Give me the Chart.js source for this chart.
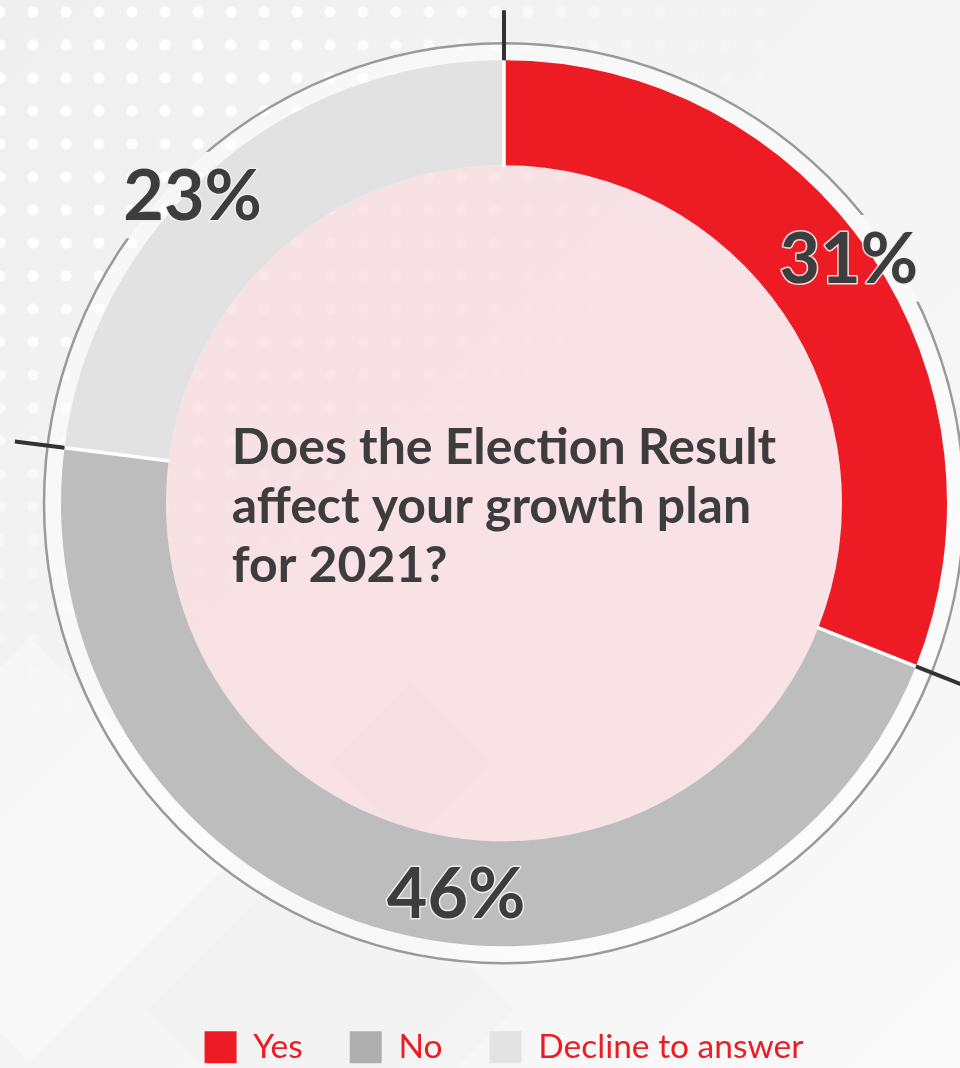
<!DOCTYPE html>
<html>
<head>
<meta charset="utf-8">
<title>Election result and growth plans</title>
<script src="https://cdn.jsdelivr.net/npm/chart.js@4.4.0/dist/chart.umd.min.js"></script>
<style>
  html, body { margin: 0; padding: 0; width: 960px; height: 1068px; overflow: hidden; }
  body {
    position: relative;
    font-family: Lato, sans-serif;
    background: linear-gradient(135deg, #efefef 0%, #f4f4f4 45%, #f9f9f9 100%);
  }
  .dots {
    position: absolute; left: 0; top: 0; width: 960px; height: 1068px;
    background-image: radial-gradient(circle, rgba(255,255,255,0.95) 5px, rgba(255,255,255,0) 6px);
    background-size: 33px 33px;
    background-position: -16.5px -4.5px;
    -webkit-mask-image: radial-gradient(ellipse 820px 760px at 0 0, #000 35%, transparent 100%);
    mask-image: radial-gradient(ellipse 820px 760px at 0 0, #000 35%, transparent 100%);
  }
  .diamond { position: absolute; transform: rotate(45deg); background: rgba(0,0,0,0.022); }
  #wrap { position: absolute; left: 0; top: 0; width: 960px; height: 1068px; }
</style>
</head>
<body>
<div class="dots"></div>
<div class="diamond" style="left:354px; top:706px; width:113px; height:113px;"></div>
<div class="diamond" style="left:200px; top:880px; width:260px; height:260px; background: rgba(0,0,0,0.012);"></div>
<div class="diamond" style="left:-120px; top:700px; width:300px; height:300px; background: rgba(255,255,255,0.35);"></div>
<div id="wrap"><canvas id="pie"></canvas></div>

<script>
// chart data
var categories = ['Yes', 'No', 'Decline to answer'];
var shares = [31, 46, 23];
var sliceColors = ['#ed1c24', '#bdbdbd', '#e2e2e2'];
var legendColors = ['#ed1c24', '#afafaf', '#e3e3e3'];
var questionLines = ['Does the Election Result', 'affect your growth plan', 'for 2021?'];

// where each % label sits, relative to its slice
function labelSpots(chart, opts) {
  var ctx = chart.ctx;
  ctx.save();
  ctx.font = 'bold ' + opts.labelSize + 'px Lato';
  var spots = chart.getDatasetMeta(0).data.map(function (arc, i) {
    var p = arc.getProps(['x', 'y', 'startAngle', 'endAngle', 'outerRadius'], true);
    var mid = (p.startAngle + p.endAngle) / 2 + opts.shift[i] * Math.PI / 180;
    var r = p.outerRadius * opts.reach[i];
    var text = shares[i] + '%';
    return {
      x: p.x + Math.cos(mid) * r,
      y: p.y + Math.sin(mid) * r,
      text: text,
      w: ctx.measureText(text).width
    };
  });
  ctx.restore();
  return spots;
}

var ringDecor = {
  id: 'ringDecor',
  beforeDatasetsDraw: function (chart, args, opts) {
    var arcs = chart.getDatasetMeta(0).data;
    if (!arcs.length) return;
    var g = arcs[0].getProps(['x', 'y', 'innerRadius', 'outerRadius'], true);
    var ctx = chart.ctx;
    ctx.save();

    // lighter band just outside the ring
    ctx.strokeStyle = 'rgba(255,255,255,0.45)';
    ctx.lineWidth = opts.circleGap;
    ctx.beginPath();
    ctx.arc(g.x, g.y, g.outerRadius + opts.circleGap / 2, 0, Math.PI * 2);
    ctx.stroke();

    // pink disk in the hole
    ctx.fillStyle = opts.diskColor;
    ctx.beginPath();
    ctx.arc(g.x, g.y, g.innerRadius, 0, Math.PI * 2);
    ctx.fill();

    // thin outer circle, broken where the labels cross it
    var half = opts.labelSize * 0.36 + opts.gapPad;
    ctx.beginPath();
    ctx.rect(0, 0, chart.width, chart.height);
    labelSpots(chart, opts).forEach(function (s) {
      ctx.rect(s.x - s.w / 2 - opts.gapPad, s.y - half, s.w + opts.gapPad * 2, half * 2);
    });
    ctx.clip('evenodd');
    ctx.strokeStyle = opts.circleColor;
    ctx.lineWidth = 2.5;
    ctx.beginPath();
    ctx.arc(g.x, g.y, g.outerRadius + opts.circleGap, 0, Math.PI * 2);
    ctx.stroke();
    ctx.restore();
  },
  afterDatasetsDraw: function (chart, args, opts) {
    var arcs = chart.getDatasetMeta(0).data;
    if (!arcs.length) return;
    var ctx = chart.ctx;
    ctx.save();

    // white gap between slices + dark tick outside the ring
    arcs.forEach(function (arc) {
      var p = arc.getProps(['x', 'y', 'startAngle', 'innerRadius', 'outerRadius'], true);
      var c = Math.cos(p.startAngle), s = Math.sin(p.startAngle);
      ctx.strokeStyle = '#ffffff';
      ctx.lineWidth = 3.5;
      ctx.beginPath();
      ctx.moveTo(p.x + c * (p.innerRadius - 1), p.y + s * (p.innerRadius - 1));
      ctx.lineTo(p.x + c * p.outerRadius, p.y + s * p.outerRadius);
      ctx.stroke();
      ctx.strokeStyle = opts.tickColor;
      ctx.lineWidth = 4;
      ctx.beginPath();
      ctx.moveTo(p.x + c * p.outerRadius, p.y + s * p.outerRadius);
      ctx.lineTo(p.x + c * (p.outerRadius + opts.tickLen), p.y + s * (p.outerRadius + opts.tickLen));
      ctx.stroke();
    });

    // percentage labels
    ctx.font = 'bold ' + opts.labelSize + 'px Lato';
    ctx.textAlign = 'center';
    ctx.textBaseline = 'alphabetic';
    ctx.lineJoin = 'round';
    labelSpots(chart, opts).forEach(function (s) {
      var base = s.y + opts.labelSize * 0.36;
      ctx.strokeStyle = 'rgba(240,240,240,0.9)';
      ctx.lineWidth = 3;
      ctx.strokeText(s.text, s.x, base);
      ctx.fillStyle = opts.textColor;
      ctx.fillText(s.text, s.x, base);
    });

    // question in the middle
    var g = arcs[0].getProps(['x', 'y'], true);
    ctx.font = 'bold ' + opts.questionSize + 'px Lato';
    ctx.textAlign = 'left';
    var widest = 0;
    questionLines.forEach(function (t) { widest = Math.max(widest, ctx.measureText(t).width); });
    var left = g.x - widest / 2;
    var first = g.y - (questionLines.length - 1) * opts.questionLead / 2 + opts.questionSize * 0.36 + 2;
    ctx.fillStyle = opts.textColor;
    questionLines.forEach(function (t, i) {
      ctx.fillText(t, left, first + i * opts.questionLead);
    });
    ctx.restore();
  }
};

var pie = new Chart(document.getElementById('pie'), {
  type: 'doughnut',
  data: {
    labels: categories,
    datasets: [{
      data: shares,
      backgroundColor: sliceColors,
      borderWidth: 0,
      hoverOffset: 0
    }]
  },
  options: {
    responsive: true,
    maintainAspectRatio: false,
    animation: false,
    radius: 443,
    cutout: '76.3%',
    layout: { padding: { top: 23, left: 48, right: 0, bottom: -6 } },
    plugins: {
      tooltip: { enabled: false },
      legend: {
        position: 'bottom',
        labels: {
          boxWidth: 32,
          boxHeight: 32,
          padding: 47,
          color: '#ed1c24',
          font: { family: 'Lato', size: 33.5 },
          generateLabels: function (chart) {
            var items = Chart.overrides.doughnut.plugins.legend.labels.generateLabels(chart);
            items.forEach(function (it, i) {
              it.fillStyle = legendColors[i];
              it.strokeStyle = legendColors[i];
              it.lineWidth = 0;
              it.fontColor = '#ed1c24';
            });
            return items;
          }
        }
      },
      ringDecor: {
        diskColor: 'rgba(250, 214, 219, 0.6)',
        circleColor: '#9a9a9a',
        circleGap: 17,
        gapPad: 18,
        tickColor: '#333333',
        tickLen: 50,
        textColor: '#3d3d3d',
        labelSize: 70,
        shift: [-1.2, -7.4, -3.9],
        reach: [0.955, 0.887, 0.989],
        questionSize: 50,
        questionLead: 59
      }
    }
  },
  plugins: [ringDecor]
});
</script>
</body>
</html>
